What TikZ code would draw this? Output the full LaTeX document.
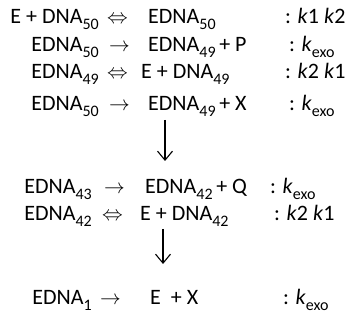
\documentclass[tikz,border=0pt]{standalone}
\usepackage{fontspec}
\setmainfont{Carlito}
\usetikzlibrary{arrows.meta}
\newcommand{\subn}[1]{\raisebox{-0.27em}{\fontsize{16}{16}\selectfont #1}}
\newcommand{\kexo}{\textit{k}\raisebox{-0.25em}{\fontsize{16}{16}\selectfont exo}}
\tikzset{
  t/.style={inner sep=0pt, font=\fontsize{22}{26}\selectfont},
  lt/.style={t, anchor=base east},
  rt/.style={t, anchor=base west},
  down/.style={-{Straight Barb[length=9pt,width=15pt,line width=1.1pt]}, line width=1.1pt}
}
\begin{document}
\begin{tikzpicture}[x=1pt,y=1pt]
\useasboundingbox (0,0) rectangle (354,-326);
% row 1
\node[lt] (a1) at (99,-24) {E + DNA\subn{50}};
\node[rt] (o1) at (107,-24) {$\Leftrightarrow$};
\node[rt] (b1) at (148,-24) {EDNA\subn{50}};
\node[rt] (k1) at (285,-24) {: \textit{k}1 \textit{k}2};
% row 2
\node[lt] (a2) at (99,-52) {EDNA\subn{50}};
\node[rt] (o2) at (109,-52) {$\rightarrow$};
\node[rt] (b2) at (148,-52) {EDNA\subn{49}\,+ P};
\node[rt] (k2) at (289,-52) {: \kexo};
% row 3
\node[lt] (a3) at (99,-79) {EDNA\subn{49}};
\node[rt] (o3) at (107,-79) {$\Leftrightarrow$};
\node[rt] (b3) at (141,-79) {E + DNA\subn{49}};
\node[rt] (k3) at (285,-79) {: \textit{k}2 \textit{k}1};
% row 4
\node[lt] (a4) at (99,-111) {EDNA\subn{50}};
\node[rt] (o4) at (109,-111) {$\rightarrow$};
\node[rt] (b4) at (148,-111) {EDNA\subn{49}\,+ X};
\node[rt] (k4) at (289,-111) {: \kexo};
% row 5
\node[lt] (a5) at (92,-194) {EDNA\subn{43}};
\node[rt] (o5) at (104,-194) {$\rightarrow$};
\node[rt] (b5) at (145,-194) {EDNA\subn{42}\,+ Q};
\node[rt] (k5) at (270,-194) {: \kexo};
% row 6
\node[lt] (a6) at (92,-221) {EDNA\subn{42}};
\node[rt] (o6) at (102,-221) {$\Leftrightarrow$};
\node[rt] (b6) at (140,-221) {E + DNA\subn{42}};
\node[rt] (k6) at (274,-221) {: \textit{k}2 \textit{k}1};
% row 7
\node[lt] (a7) at (92,-305) {EDNA\subn{1}};
\node[rt] (o7) at (100,-305) {$\rightarrow$};
\node[rt] (b7) at (150,-305) {E\ \ + X};
\node[rt] (k7) at (283,-305) {: \kexo};
% vertical arrows
\coordinate (s1) at (165,-120);
\coordinate (e1) at (165,-161);
\coordinate (s2) at (163,-229);
\coordinate (e2) at (163,-264);
\draw[down] (s1) -- (e1);
\draw[down] (s2) -- (e2);
\end{tikzpicture}
\end{document}
